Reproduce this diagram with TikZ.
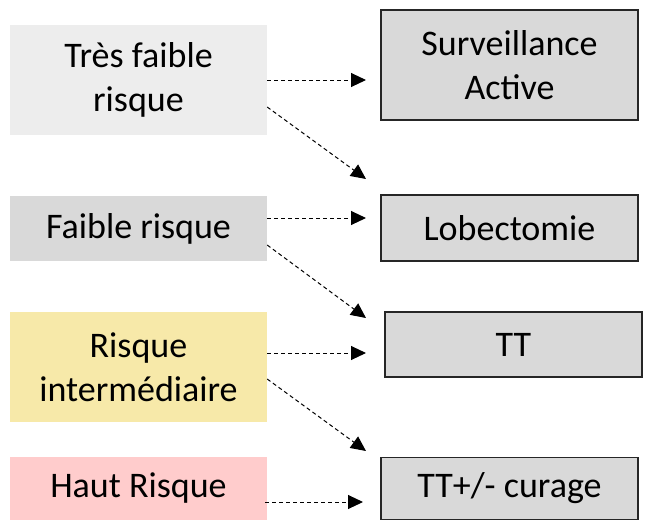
\documentclass[tikz,border=0pt]{standalone}
\usepackage{fontspec}
\setmainfont{Carlito}
\usetikzlibrary{arrows.meta}

\definecolor{grisclair}{HTML}{EDEDED}
\definecolor{gris}{HTML}{D9D9D9}
\definecolor{jaune}{HTML}{F7E9A9}
\definecolor{rose}{HTML}{FFCCCC}

\begin{document}
\begin{tikzpicture}[x=1pt, y=-1pt,
  risk/.style={rectangle, inner sep=0pt, minimum width=257pt, align=center,
    font=\fontsize{36}{44}\selectfont},
  trt/.style={risk, draw=black!85, line width=1.6pt, fill=gris},
  fleche/.style={dash pattern=on 4pt off 3pt, line width=1pt,
    -{Triangle[length=15pt, width=14pt]}}]
  \useasboundingbox (0, 0) rectangle (656, 520);

  % groupes de risque
  \node[risk, fill=grisclair, minimum height=110pt] (tf) at (138.5, 80) {Très faible\\risque};
  \node[risk, fill=gris, minimum height=65pt] (f) at (138.5, 228.5) {Faible risque};
  \node[risk, fill=jaune, minimum height=110pt] (ri) at (138.5, 367) {Risque\\intermédiaire};
  \node[risk, fill=rose, minimum height=63pt] (hr) at (138.5, 488.5) {Haut Risque};

  % traitements
  \node[trt, minimum height=110pt] (sa) at (509.5, 65) {Surveillance\\Active};
  \node[trt, minimum height=66pt] (lob) at (509.5, 228) {Lobectomie};
  \node[trt, minimum height=65pt] (tt) at (513.5, 344.5) {TT};
  \node[trt, minimum height=62pt] (cur) at (509.5, 488.5) {TT+/- curage};

  % bouts des fleches
  \coordinate (e1) at (366, 80);
  \coordinate (e2) at (366, 179);
  \coordinate (e3) at (366, 218);
  \coordinate (e4) at (366, 318);
  \coordinate (e5) at (366, 353);
  \coordinate (e6) at (366, 451);
  \coordinate (e7) at (363, 502);

  \draw[fleche] (tf.east) -- (e1);
  \draw[fleche] ([yshift=-27pt]tf.east) -- (e2);
  \draw[fleche] ([yshift=10.5pt]f.east) -- (e3);
  \draw[fleche] ([yshift=-16.5pt]f.east) -- (e4);
  \draw[fleche] ([yshift=14pt]ri.east) -- (e5);
  \draw[fleche] ([yshift=-12pt]ri.east) -- (e6);
  \draw[fleche] ([xshift=-2pt, yshift=-13.5pt]hr.east) -- (e7);
\end{tikzpicture}
\end{document}
